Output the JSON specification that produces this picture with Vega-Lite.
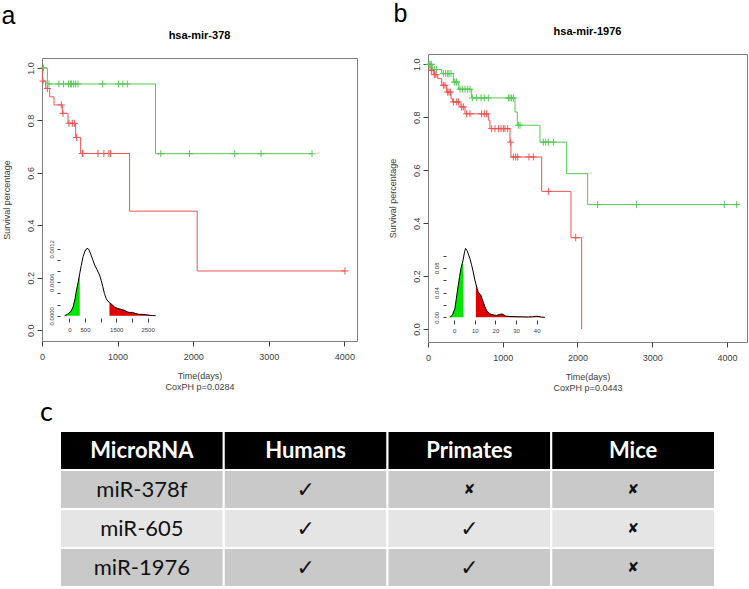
{
  "$schema": "https://vega.github.io/schema/vega-lite/v6.json",
  "padding": {"left": 1, "top": 2, "right": 0, "bottom": 0},
  "background": "white",
  "config": {
    "font": "Liberation Sans",
    "view": {"stroke": "#808080", "strokeWidth": 1},
    "axis": {"grid": false, "labelColor": "#404040", "titleColor": "#404040", "tickColor": "#404040", "labelFont": "Liberation Sans", "titleFont": "Liberation Sans", "titleFontWeight": "normal"},
    "title": {"color": "black"}
  },
  "datasets": {
    "kmA": [
      {"g": "Low", "t": 0, "s": 1.0}, {"g": "Low", "t": 71, "s": 0.939}, {"g": "Low", "t": 1502, "s": 0.673}, {"g": "Low", "t": 3572, "s": 0.673},
      {"g": "High", "t": 0, "s": 1.0}, {"g": "High", "t": 5, "s": 0.95}, {"g": "High", "t": 49, "s": 0.922}, {"g": "High", "t": 102, "s": 0.89}, {"g": "High", "t": 159, "s": 0.859}, {"g": "High", "t": 269, "s": 0.827}, {"g": "High", "t": 344, "s": 0.789}, {"g": "High", "t": 445, "s": 0.735}, {"g": "High", "t": 511, "s": 0.674}, {"g": "High", "t": 1159, "s": 0.454}, {"g": "High", "t": 2053, "s": 0.226}, {"g": "High", "t": 4008, "s": 0.226}
    ],
    "cenA": [
      {"g": "Low", "t": 18, "s": 1.0}, {"g": "Low", "t": 92, "s": 0.939}, {"g": "Low", "t": 224, "s": 0.939}, {"g": "Low", "t": 286, "s": 0.939}, {"g": "Low", "t": 352, "s": 0.939}, {"g": "Low", "t": 375, "s": 0.939}, {"g": "Low", "t": 392, "s": 0.939}, {"g": "Low", "t": 419, "s": 0.939}, {"g": "Low", "t": 444, "s": 0.939}, {"g": "Low", "t": 476, "s": 0.939}, {"g": "Low", "t": 798, "s": 0.939}, {"g": "Low", "t": 1013, "s": 0.939}, {"g": "Low", "t": 1070, "s": 0.939}, {"g": "Low", "t": 1128, "s": 0.939}, {"g": "Low", "t": 1572, "s": 0.673}, {"g": "Low", "t": 1951, "s": 0.673}, {"g": "Low", "t": 2550, "s": 0.673}, {"g": "Low", "t": 2898, "s": 0.673}, {"g": "Low", "t": 3572, "s": 0.673},
      {"g": "High", "t": 13, "s": 0.95}, {"g": "High", "t": 71, "s": 0.922}, {"g": "High", "t": 256, "s": 0.859}, {"g": "High", "t": 278, "s": 0.827}, {"g": "High", "t": 357, "s": 0.789}, {"g": "High", "t": 401, "s": 0.789}, {"g": "High", "t": 428, "s": 0.789}, {"g": "High", "t": 458, "s": 0.735}, {"g": "High", "t": 533, "s": 0.674}, {"g": "High", "t": 542, "s": 0.674}, {"g": "High", "t": 740, "s": 0.674}, {"g": "High", "t": 819, "s": 0.674}, {"g": "High", "t": 885, "s": 0.674}, {"g": "High", "t": 908, "s": 0.674}, {"g": "High", "t": 4008, "s": 0.226}
    ],
    "kmB": [
      {"g": "Low", "t": 0, "s": 1.0}, {"g": "Low", "t": 58, "s": 0.98}, {"g": "Low", "t": 183, "s": 0.965}, {"g": "Low", "t": 339, "s": 0.933}, {"g": "Low", "t": 406, "s": 0.906}, {"g": "Low", "t": 584, "s": 0.873}, {"g": "Low", "t": 1164, "s": 0.82}, {"g": "Low", "t": 1195, "s": 0.77}, {"g": "Low", "t": 1498, "s": 0.706}, {"g": "Low", "t": 1855, "s": 0.587}, {"g": "Low", "t": 2136, "s": 0.47}, {"g": "Low", "t": 4130, "s": 0.47},
      {"g": "High", "t": 0, "s": 1.0}, {"g": "High", "t": 27, "s": 0.977}, {"g": "High", "t": 71, "s": 0.961}, {"g": "High", "t": 130, "s": 0.946}, {"g": "High", "t": 183, "s": 0.921}, {"g": "High", "t": 250, "s": 0.895}, {"g": "High", "t": 308, "s": 0.87}, {"g": "High", "t": 326, "s": 0.858}, {"g": "High", "t": 428, "s": 0.839}, {"g": "High", "t": 495, "s": 0.813}, {"g": "High", "t": 807, "s": 0.789}, {"g": "High", "t": 829, "s": 0.757}, {"g": "High", "t": 1097, "s": 0.706}, {"g": "High", "t": 1110, "s": 0.65}, {"g": "High", "t": 1521, "s": 0.52}, {"g": "High", "t": 1913, "s": 0.345}, {"g": "High", "t": 2056, "s": 0.0}
    ],
    "cenB": [
      {"g": "Low", "t": 14, "s": 1.0}, {"g": "Low", "t": 27, "s": 1.0}, {"g": "Low", "t": 45, "s": 1.0}, {"g": "Low", "t": 85, "s": 0.98}, {"g": "Low", "t": 116, "s": 0.98}, {"g": "Low", "t": 205, "s": 0.965}, {"g": "Low", "t": 236, "s": 0.965}, {"g": "Low", "t": 263, "s": 0.965}, {"g": "Low", "t": 281, "s": 0.965}, {"g": "Low", "t": 308, "s": 0.965}, {"g": "Low", "t": 352, "s": 0.933}, {"g": "Low", "t": 375, "s": 0.933}, {"g": "Low", "t": 384, "s": 0.933}, {"g": "Low", "t": 428, "s": 0.906}, {"g": "Low", "t": 459, "s": 0.906}, {"g": "Low", "t": 495, "s": 0.906}, {"g": "Low", "t": 531, "s": 0.906}, {"g": "Low", "t": 562, "s": 0.906}, {"g": "Low", "t": 593, "s": 0.873}, {"g": "Low", "t": 651, "s": 0.873}, {"g": "Low", "t": 709, "s": 0.873}, {"g": "Low", "t": 753, "s": 0.873}, {"g": "Low", "t": 807, "s": 0.873}, {"g": "Low", "t": 1075, "s": 0.873}, {"g": "Low", "t": 1097, "s": 0.873}, {"g": "Low", "t": 1119, "s": 0.873}, {"g": "Low", "t": 1142, "s": 0.873}, {"g": "Low", "t": 1209, "s": 0.77}, {"g": "Low", "t": 1231, "s": 0.77}, {"g": "Low", "t": 1543, "s": 0.706}, {"g": "Low", "t": 1574, "s": 0.706}, {"g": "Low", "t": 1610, "s": 0.706}, {"g": "Low", "t": 1677, "s": 0.706}, {"g": "Low", "t": 2270, "s": 0.47}, {"g": "Low", "t": 2792, "s": 0.47}, {"g": "Low", "t": 3964, "s": 0.47}, {"g": "Low", "t": 4130, "s": 0.47},
      {"g": "High", "t": 45, "s": 0.977}, {"g": "High", "t": 85, "s": 0.961}, {"g": "High", "t": 105, "s": 0.961}, {"g": "High", "t": 205, "s": 0.921}, {"g": "High", "t": 227, "s": 0.921}, {"g": "High", "t": 263, "s": 0.895}, {"g": "High", "t": 281, "s": 0.895}, {"g": "High", "t": 299, "s": 0.895}, {"g": "High", "t": 339, "s": 0.858}, {"g": "High", "t": 384, "s": 0.858}, {"g": "High", "t": 406, "s": 0.858}, {"g": "High", "t": 450, "s": 0.839}, {"g": "High", "t": 473, "s": 0.839}, {"g": "High", "t": 517, "s": 0.813}, {"g": "High", "t": 562, "s": 0.813}, {"g": "High", "t": 718, "s": 0.813}, {"g": "High", "t": 754, "s": 0.813}, {"g": "High", "t": 785, "s": 0.813}, {"g": "High", "t": 852, "s": 0.757}, {"g": "High", "t": 896, "s": 0.757}, {"g": "High", "t": 941, "s": 0.757}, {"g": "High", "t": 977, "s": 0.757}, {"g": "High", "t": 1008, "s": 0.757}, {"g": "High", "t": 1030, "s": 0.757}, {"g": "High", "t": 1066, "s": 0.757}, {"g": "High", "t": 1106, "s": 0.706}, {"g": "High", "t": 1142, "s": 0.65}, {"g": "High", "t": 1173, "s": 0.65}, {"g": "High", "t": 1200, "s": 0.65}, {"g": "High", "t": 1351, "s": 0.65}, {"g": "High", "t": 1409, "s": 0.65}, {"g": "High", "t": 1610, "s": 0.52}, {"g": "High", "t": 1976, "s": 0.345}
    ],
    "densA": [
      {"x": -150, "d": 0}, {"x": -50, "d": 0.00003}, {"x": 50, "d": 0.00008}, {"x": 120, "d": 0.00016}, {"x": 180, "d": 0.0003}, {"x": 228, "d": 0.00046}, {"x": 280, "d": 0.0006}, {"x": 332, "d": 0.00076}, {"x": 380, "d": 0.0009}, {"x": 437, "d": 0.00106}, {"x": 500, "d": 0.00116}, {"x": 563, "d": 0.00121}, {"x": 620, "d": 0.00119}, {"x": 680, "d": 0.00111}, {"x": 750, "d": 0.001}, {"x": 807, "d": 0.00091}, {"x": 880, "d": 0.00083}, {"x": 965, "d": 0.00073}, {"x": 1020, "d": 0.00063}, {"x": 1070, "d": 0.00052}, {"x": 1120, "d": 0.0004}, {"x": 1177, "d": 0.00031}, {"x": 1230, "d": 0.00026}, {"x": 1282, "d": 0.00024}, {"x": 1360, "d": 0.0002}, {"x": 1440, "d": 0.00016}, {"x": 1550, "d": 0.00013}, {"x": 1650, "d": 0.000115}, {"x": 1750, "d": 0.0001}, {"x": 1850, "d": 0.00007}, {"x": 1915, "d": 0.00006}, {"x": 2020, "d": 0.00006}, {"x": 2120, "d": 0.00004}, {"x": 2230, "d": 0.000025}, {"x": 2340, "d": 0.000025}, {"x": 2440, "d": 0.00002}, {"x": 2550, "d": 0.00001}, {"x": 2650, "d": 0.000005}, {"x": 2760, "d": 0}
    ],
    "densB": [
      {"x": -2.1, "d": 0}, {"x": -1, "d": 0.003}, {"x": 0.3, "d": 0.0136}, {"x": 1.0, "d": 0.03}, {"x": 1.95, "d": 0.052}, {"x": 2.6, "d": 0.066}, {"x": 3.25, "d": 0.079}, {"x": 4.3, "d": 0.0926}, {"x": 5.0, "d": 0.106}, {"x": 5.5, "d": 0.1115}, {"x": 6.2, "d": 0.108}, {"x": 7.0, "d": 0.101}, {"x": 7.6, "d": 0.095}, {"x": 8.4, "d": 0.085}, {"x": 9.2, "d": 0.0735}, {"x": 9.9, "d": 0.062}, {"x": 10.5, "d": 0.054}, {"x": 11.1, "d": 0.047}, {"x": 11.65, "d": 0.041}, {"x": 12.3, "d": 0.038}, {"x": 12.96, "d": 0.0354}, {"x": 13.5, "d": 0.03}, {"x": 14.1, "d": 0.0245}, {"x": 14.9, "d": 0.017}, {"x": 15.7, "d": 0.011}, {"x": 17, "d": 0.006}, {"x": 18.2, "d": 0.0044}, {"x": 19.5, "d": 0.0035}, {"x": 20.6, "d": 0.003}, {"x": 22, "d": 0.0045}, {"x": 23, "d": 0.0054}, {"x": 24, "d": 0.004}, {"x": 25, "d": 0.002}, {"x": 27, "d": 0.0012}, {"x": 29.5, "d": 0.001}, {"x": 33, "d": 0.0007}, {"x": 35.9, "d": 0.0005}, {"x": 38, "d": 0.0008}, {"x": 39.3, "d": 0.0014}, {"x": 40, "d": 0.0016}, {"x": 41, "d": 0.0012}, {"x": 42.4, "d": 0.0003}, {"x": 44, "d": 0}
    ],
    "table": [
      {"row": 0, "col": "MicroRNA", "label": "MicroRNA", "shade": "header"},
      {"row": 0, "col": "Humans", "label": "Humans", "shade": "header"},
      {"row": 0, "col": "Primates", "label": "Primates", "shade": "header"},
      {"row": 0, "col": "Mice", "label": "Mice", "shade": "header"},
      {"row": 1, "col": "MicroRNA", "label": "miR-378f", "shade": "dark"},
      {"row": 1, "col": "Humans", "label": "✓", "shade": "dark"},
      {"row": 1, "col": "Primates", "label": "✘", "shade": "dark"},
      {"row": 1, "col": "Mice", "label": "✘", "shade": "dark"},
      {"row": 2, "col": "MicroRNA", "label": "miR-605", "shade": "light"},
      {"row": 2, "col": "Humans", "label": "✓", "shade": "light"},
      {"row": 2, "col": "Primates", "label": "✓", "shade": "light"},
      {"row": 2, "col": "Mice", "label": "✘", "shade": "light"},
      {"row": 3, "col": "MicroRNA", "label": "miR-1976", "shade": "dark"},
      {"row": 3, "col": "Humans", "label": "✓", "shade": "dark"},
      {"row": 3, "col": "Primates", "label": "✓", "shade": "dark"},
      {"row": 3, "col": "Mice", "label": "✘", "shade": "dark"}
    ]
  },
  "vconcat": [
    {
      "hconcat": [
        {
          "title": {"text": "a", "anchor": "start", "fontSize": 25, "fontWeight": "normal", "font": "Liberation Sans", "offset": -8, "frame": "bounds"},
          "spacing": 0,
          "vconcat": [
            {"width": 10, "height": 8, "data": {"values": [{}]}, "mark": {"type": "point", "opacity": 0}, "view": {"stroke": null}},
            {
              "width": 315, "height": 283,
              "title": {"text": "hsa-mir-378", "frame": "group", "fontSize": 11, "fontWeight": "bold", "offset": 17},
              "layer": [
                {
                  "encoding": {
                    "x": {"field": "t", "type": "quantitative", "scale": {"domain": [0, 4167], "nice": false, "zero": false},
                      "axis": {"values": [0, 1000, 2000, 3000, 4000], "format": "d", "domain": false, "tickSize": 5, "labelPadding": 6, "labelFontSize": 9, "labelFlush": false, "labelOverlap": false, "title": ["Time(days)", "CoxPH p=0.0284"], "titleFontSize": 9, "titleLineHeight": 11, "titlePadding": 10}},
                    "y": {"field": "s", "type": "quantitative", "scale": {"domain": [-0.041, 1.038], "nice": false, "zero": false},
                      "axis": {"values": [0, 0.2, 0.4, 0.6, 0.8, 1.0], "format": ".1f", "domain": false, "tickSize": 5, "labelAngle": -90, "labelAlign": "center", "labelBaseline": "bottom", "labelPadding": 2, "labelFontSize": 9, "title": "Survival percentage", "titleFontSize": 9, "titlePadding": 15}},
                    "color": {"field": "g", "type": "nominal", "scale": {"domain": ["Low", "High"], "range": ["#55c855", "#ec5454"]}, "legend": null}
                  },
                  "layer": [
                    {"data": {"name": "kmA"}, "mark": {"type": "line", "interpolate": "step-after", "strokeWidth": 1}},
                    {"data": {"name": "cenA"}, "mark": {"type": "point", "shape": "M0,-1V1M-1,0H1", "filled": false, "size": 49, "strokeWidth": 1, "opacity": 1}}
                  ]
                },
                {
                  "encoding": {
                    "x": {"field": "x", "type": "quantitative", "scale": {"domain": [-300, 2930], "range": [18, 119], "nice": false, "zero": false},
                      "axis": {"orient": "bottom", "offset": -23, "values": [0, 500, 1000, 1500, 2000, 2500], "format": "d", "labelExpr": "datum.value == 1000 || datum.value == 2000 ? '' : datum.label", "domain": false, "tickSize": 4, "labelPadding": 4, "labelFontSize": 6, "labelFlush": false, "labelOverlap": false, "title": null}},
                    "y": {"field": "d", "type": "quantitative", "scale": {"domain": [-0.00004, 0.00125], "range": [260, 188], "nice": false, "zero": false},
                      "axis": {"orient": "left", "offset": -18, "values": [0, 0.0002, 0.0004, 0.0006, 0.0008, 0.001, 0.0012], "labelExpr": "datum.value == 0 || datum.value == 0.0006 || datum.value == 0.0012 ? format(datum.value, '.4f') : ''", "domain": false, "tickSize": 3, "labelAngle": -90, "labelAlign": "center", "labelBaseline": "bottom", "labelPadding": 3, "labelFontSize": 6, "labelOverlap": false, "title": null}}
                  },
                  "layer": [
                    {"data": {"values": [{}]}, "mark": {"type": "rect", "fill": "white", "stroke": "#333333", "strokeWidth": 1}, "encoding": {"x": {"datum": -300}, "x2": {"datum": 2930}, "y": {"datum": -0.00004}, "y2": {"datum": 0.00125}}},
                    {"data": {"values": [{}]}, "mark": {"type": "rule", "color": "#c8c8c8", "strokeWidth": 1}, "encoding": {"x": {"datum": -200}, "x2": {"datum": 2850}, "y": {"datum": 0}}},
                    {"data": {"name": "densA"}, "transform": [{"filter": "datum.x <= 332"}], "mark": {"type": "area", "color": "#00e600", "opacity": 1}, "encoding": {"y2": {"datum": 0}}},
                    {"data": {"name": "densA"}, "transform": [{"filter": "datum.x >= 1282"}], "mark": {"type": "area", "color": "#e00000", "opacity": 1}, "encoding": {"y2": {"datum": 0}}},
                    {"data": {"name": "densA"}, "mark": {"type": "line", "color": "black", "strokeWidth": 1}},
                    {"data": {"values": [{}]}, "mark": {"type": "text", "text": "Expression level", "fontSize": 7.5, "fontWeight": "bold", "baseline": "middle", "align": "center", "dy": -6, "color": "black"}, "encoding": {"x": {"datum": 1315}, "y": {"datum": 0.00125}}}
                  ]
                }
              ],
              "resolve": {"scale": {"x": "independent", "y": "independent"}, "axis": {"x": "independent", "y": "independent"}}
            }
          ]
        },
        {
          "title": {"text": "b", "anchor": "start", "fontSize": 25, "fontWeight": "normal", "font": "Liberation Sans", "offset": -8, "frame": "bounds", "dx": 6},
          "spacing": 0,
          "vconcat": [
            {"width": 10, "height": 2, "data": {"values": [{}]}, "mark": {"type": "point", "opacity": 0}, "view": {"stroke": null}},
            {
              "width": 319, "height": 288,
              "title": {"text": "hsa-mir-1976", "frame": "group", "fontSize": 11, "fontWeight": "bold", "offset": 17},
              "layer": [
                {
                  "encoding": {
                    "x": {"field": "t", "type": "quantitative", "scale": {"domain": [0, 4268], "nice": false, "zero": false},
                      "axis": {"values": [0, 1000, 2000, 3000, 4000], "format": "d", "domain": false, "tickSize": 5, "labelPadding": 6, "labelFontSize": 9, "labelFlush": false, "labelOverlap": false, "title": ["Time(days)", "CoxPH p=0.0443"], "titleFontSize": 9, "titleLineHeight": 11, "titlePadding": 10}},
                    "y": {"field": "s", "type": "quantitative", "scale": {"domain": [-0.049, 1.039], "nice": false, "zero": false},
                      "axis": {"values": [0, 0.2, 0.4, 0.6, 0.8, 1.0], "format": ".1f", "domain": false, "tickSize": 5, "labelAngle": -90, "labelAlign": "center", "labelBaseline": "bottom", "labelPadding": 2, "labelFontSize": 9, "title": "Survival percentage", "titleFontSize": 9, "titlePadding": 15}},
                    "color": {"field": "g", "type": "nominal", "scale": {"domain": ["Low", "High"], "range": ["#55c855", "#ec5454"]}, "legend": null}
                  },
                  "layer": [
                    {"data": {"name": "kmB"}, "mark": {"type": "line", "interpolate": "step-after", "strokeWidth": 1}},
                    {"data": {"name": "cenB"}, "mark": {"type": "point", "shape": "M0,-1V1M-1,0H1", "filled": false, "size": 49, "strokeWidth": 1, "opacity": 1}}
                  ]
                },
                {
                  "encoding": {
                    "x": {"field": "x", "type": "quantitative", "scale": {"domain": [-4, 46], "range": [18, 121], "nice": false, "zero": false},
                      "axis": {"orient": "bottom", "offset": -22, "values": [0, 10, 20, 30, 40], "format": "d", "domain": false, "tickSize": 4, "labelPadding": 3, "labelFontSize": 6, "labelFlush": false, "labelOverlap": false, "title": null}},
                    "y": {"field": "d", "type": "quantitative", "scale": {"domain": [-0.0044, 0.117], "range": [266, 191], "nice": false, "zero": false},
                      "axis": {"orient": "left", "offset": -18, "values": [0, 0.02, 0.04, 0.06, 0.08, 0.1], "labelExpr": "datum.value == 0 || datum.value == 0.04 || datum.value == 0.08 ? format(datum.value, '.2f') : ''", "domain": false, "tickSize": 3, "labelAngle": -90, "labelAlign": "center", "labelBaseline": "bottom", "labelPadding": 4, "labelFontSize": 6, "labelOverlap": false, "title": null}}
                  },
                  "layer": [
                    {"data": {"values": [{}]}, "mark": {"type": "rect", "fill": "white", "stroke": "#333333", "strokeWidth": 1}, "encoding": {"x": {"datum": -4}, "x2": {"datum": 46}, "y": {"datum": -0.0044}, "y2": {"datum": 0.117}}},
                    {"data": {"values": [{}]}, "mark": {"type": "rule", "color": "#c8c8c8", "strokeWidth": 1}, "encoding": {"x": {"datum": -3}, "x2": {"datum": 45}, "y": {"datum": 0}}},
                    {"data": {"name": "densB"}, "transform": [{"filter": "datum.x <= 4.3"}], "mark": {"type": "area", "color": "#00e600", "opacity": 1}, "encoding": {"y2": {"datum": 0}}},
                    {"data": {"name": "densB"}, "transform": [{"filter": "datum.x >= 10.5"}], "mark": {"type": "area", "color": "#e00000", "opacity": 1}, "encoding": {"y2": {"datum": 0}}},
                    {"data": {"name": "densB"}, "mark": {"type": "line", "color": "black", "strokeWidth": 1}},
                    {"data": {"values": [{}]}, "mark": {"type": "text", "text": "Expression level", "fontSize": 7.5, "fontWeight": "bold", "baseline": "middle", "align": "center", "dy": -6, "color": "black"}, "encoding": {"x": {"datum": 21}, "y": {"datum": 0.117}}}
                  ]
                }
              ],
              "resolve": {"scale": {"x": "independent", "y": "independent"}, "axis": {"x": "independent", "y": "independent"}}
            }
          ]
        }
      ],
      "spacing": 29
    },
    {
      "title": {"text": "c", "anchor": "start", "fontSize": 27, "fontWeight": "normal", "font": "Lato", "offset": 3, "frame": "group", "dx": -2},
      "width": 673, "height": 156,
      "view": {"stroke": null},
      "data": {"name": "table"},
      "encoding": {
        "x": {"field": "col", "type": "nominal", "sort": ["MicroRNA", "Humans", "Primates", "Mice"], "axis": null, "scale": {"range": [18, 673], "paddingInner": 0, "paddingOuter": 0}},
        "y": {"field": "row", "type": "ordinal", "axis": null, "scale": {"paddingInner": 0, "paddingOuter": 0}}
      },
      "layer": [
        {"mark": {"type": "rect", "stroke": "white", "strokeWidth": 2}, "encoding": {"fill": {"field": "shade", "type": "nominal", "scale": {"domain": ["header", "dark", "light"], "range": ["#000000", "#c9c9c9", "#e5e5e5"]}, "legend": null}}},
        {"transform": [{"filter": "datum.row == 0"}], "mark": {"type": "text", "font": "Lato", "fontSize": 22, "fontWeight": "bold", "color": "white"}, "encoding": {"text": {"field": "label"}}},
        {"transform": [{"filter": "datum.row > 0 && datum.col == 'MicroRNA'"}], "mark": {"type": "text", "font": "Lato", "fontSize": 22, "color": "#111111"}, "encoding": {"text": {"field": "label"}}},
        {"transform": [{"filter": "datum.row > 0 && datum.label == '✓'"}], "mark": {"type": "text", "font": "DejaVu Sans", "fontSize": 22, "color": "#111111"}, "encoding": {"text": {"field": "label"}}},
        {"transform": [{"filter": "datum.row > 0 && datum.label == '✘'"}], "mark": {"type": "text", "font": "DejaVu Sans", "fontSize": 14, "color": "#111111"}, "encoding": {"text": {"field": "label"}}}
      ]
    }
  ],
  "spacing": 6
}
